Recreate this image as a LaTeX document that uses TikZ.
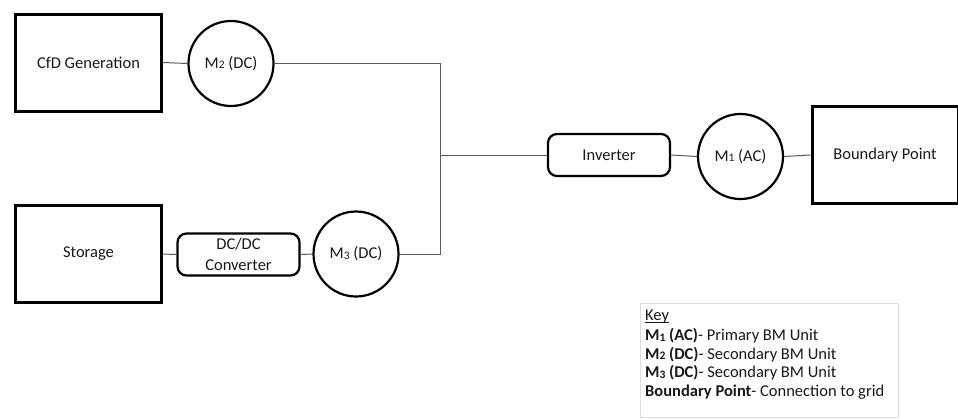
\documentclass[tikz,border=0pt]{standalone}
\usepackage{fontspec}
\setmainfont{Carlito}
\newcommand\dg[1]{\raisebox{-0.6pt}{\fontsize{11.5}{11.5}\selectfont #1}}
\newlength\kulw
\newcommand\kul[1]{\settowidth\kulw{#1}\rlap{\rule[-2.2pt]{\kulw}{0.8pt}}#1}
\begin{document}
\begin{tikzpicture}[x=1pt,y=-1pt,
  every node/.style={font=\fontsize{16.5}{19}\selectfont, text=black!90},
  block/.style={draw, line width=3pt, rectangle, minimum width=146, minimum height=97, inner sep=0},
  meter/.style={draw, line width=2.2pt, circle, minimum size=85, inner sep=0},
  conv/.style={draw, line width=2.2pt, rectangle, rounded corners=9pt, minimum width=122, minimum height=42, inner sep=0, align=center},
  wire/.style={draw=black!65, line width=1pt}]
\fill[white] (0,0) rectangle (958,418);
\useasboundingbox (0,0) rectangle (958,418);
\clip (0,0) rectangle (958,418);

\node[block] (cfd) at (88.5,62.5) {CfD Generation};
\node[block] (sto) at (88.5,254) {Storage};
\node[block] (bp) at (885,155) {Boundary Point};
\node[meter] (m2) at (231,63.5) {M\dg{2} (DC)};
\node[meter] (m3) at (356,254) {M\dg{3} (DC)};
\node[meter] (m1) at (740.5,156.5) {M\dg{1} (AC)};
\node[conv] (dc) at (238.5,254.5) {DC/DC\\[1.5pt]Converter};
\node[conv] (inv) at (609,155) {Inverter};
\coordinate (j) at (440,155);

\draw[wire] (cfd.east) -- (m2.west);
\draw[wire] (m2.east) -| (j);
\draw[wire] (j) |- (m3.east);
\draw[wire] (sto.east) -- (dc.west);
\draw[wire] (dc.east) -- (m3.west);
\draw[wire] (j) -- (inv.west);
\draw[wire] (inv.east) -- (m1.west);
\draw[wire] (m1.east) -- (bp.west);

\node[draw=black!13, line width=0.8pt, rectangle, minimum width=258, minimum height=114, inner sep=0] (key) at (769,360) {};
\node[anchor=north west, inner sep=0, align=left, font=\fontsize{16.5}{18.7}\selectfont] (keytext) at (645,310)
{\kul{Key}\\[1pt]
\textbf{M\dg{1} (AC)}- Primary BM Unit\\
\textbf{M\dg{2} (DC)}- Secondary BM Unit\\
\textbf{M\dg{3} (DC)}- Secondary BM Unit\\
\textbf{Boundary Point}- Connection to grid};
\end{tikzpicture}
\end{document}
